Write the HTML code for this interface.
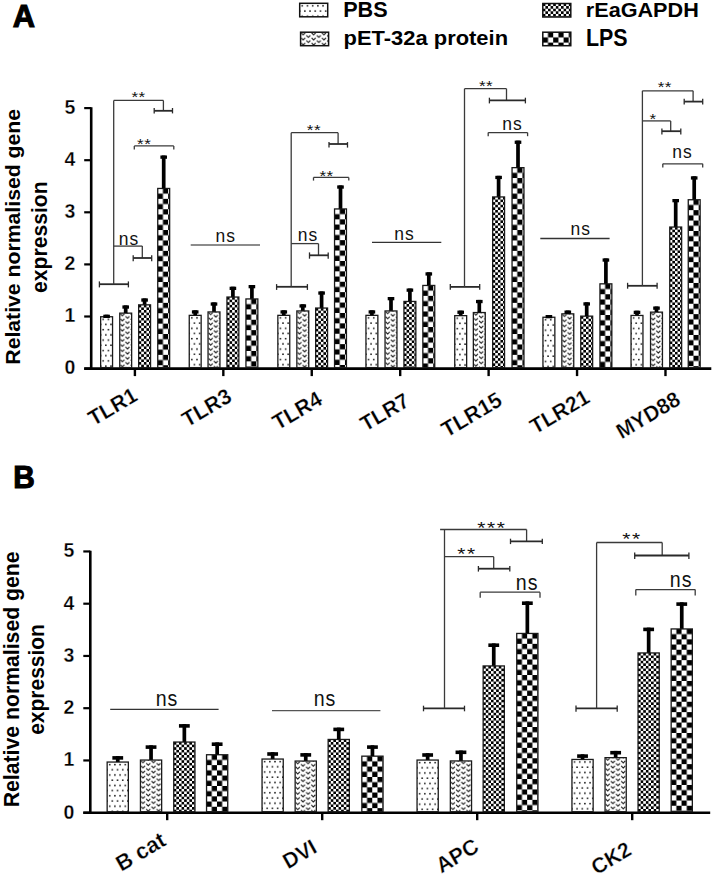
<!DOCTYPE html>
<html><head><meta charset="utf-8"><style>
html,body{margin:0;padding:0;background:#fff;}
body{width:714px;height:874px;overflow:hidden;font-family:"Liberation Sans",sans-serif;}
svg{display:block;}
</style></head><body>
<svg width="714" height="874" viewBox="0 0 714 874" font-family="Liberation Sans, sans-serif"><defs>
<pattern id="pdot" patternUnits="userSpaceOnUse" width="5.2" height="10.4" x="0" y="0">
 <rect width="5.2" height="10.4" fill="#fff"/>
 <rect x="1.8" y="1.8" width="1.5" height="1.5" fill="#111"/>
 <rect x="-0.8" y="7.0" width="1.5" height="1.5" fill="#111"/>
 <rect x="4.4" y="7.0" width="1.5" height="1.5" fill="#111"/>
</pattern>
<pattern id="pv" patternUnits="userSpaceOnUse" width="10.4" height="5.1" x="0" y="0">
 <rect width="10.4" height="5.1" fill="#fff"/>
 <g fill="none" stroke="#1a1a1a" stroke-width="1.05">
 <path d="M0.6 0.6 L2.6 2.7 L4.6 0.6"/>
 <path d="M5.8 -1.95 L7.8 0.15 L9.8 -1.95 M5.8 3.15 L7.8 5.25 L9.8 3.15"/>
 </g>
</pattern>
<pattern id="pfc" patternUnits="userSpaceOnUse" width="5.2" height="5.2" x="0" y="0">
 <rect width="5.2" height="5.2" fill="#fff"/>
 <rect x="0" y="0" width="2.6" height="2.6" fill="#000"/>
 <rect x="2.6" y="2.6" width="2.6" height="2.6" fill="#000"/>
</pattern>
<pattern id="pbc" patternUnits="userSpaceOnUse" width="10.4" height="10.4" x="0" y="0">
 <rect width="10.4" height="10.4" fill="#fff"/>
 <rect x="5.2" y="0" width="5.2" height="5.2" fill="#000"/>
 <rect x="0" y="5.2" width="5.2" height="5.2" fill="#000"/>
</pattern>
</defs><rect width="714" height="874" fill="#fff"/><g transform="translate(299.7,3.3)"><rect x="0" y="0" width="28" height="13.5" fill="url(#pdot)" stroke="#111" stroke-width="1.5"/></g>
<g transform="translate(300.6,32.2)"><rect x="0" y="0" width="28" height="13.5" fill="url(#pv)" stroke="#111" stroke-width="1.5"/></g>
<g transform="translate(542.8,3.5)"><rect x="0" y="0" width="28" height="13.5" fill="url(#pfc)" stroke="#111" stroke-width="1.5"/></g>
<g transform="translate(542.8,32.2)"><rect x="0" y="0" width="28" height="13.5" fill="url(#pbc)" stroke="#111" stroke-width="1.5"/></g>
<line x1="91.20" y1="107.30" x2="91.20" y2="369.80" stroke="#000" stroke-width="2.6"/>
<line x1="84.20" y1="368.60" x2="711.30" y2="368.60" stroke="#000" stroke-width="2.6"/>
<line x1="84.20" y1="368.60" x2="91.20" y2="368.60" stroke="#000" stroke-width="2.2"/>
<text x="75.30" y="374.40" font-size="19.5" font-weight="bold" text-anchor="end" stroke="#fff" stroke-width="0.3">0</text>
<line x1="84.20" y1="316.50" x2="91.20" y2="316.50" stroke="#000" stroke-width="2.2"/>
<text x="75.30" y="322.30" font-size="19.5" font-weight="bold" text-anchor="end" stroke="#fff" stroke-width="0.3">1</text>
<line x1="84.20" y1="264.40" x2="91.20" y2="264.40" stroke="#000" stroke-width="2.2"/>
<text x="75.30" y="270.20" font-size="19.5" font-weight="bold" text-anchor="end" stroke="#fff" stroke-width="0.3">2</text>
<line x1="84.20" y1="212.30" x2="91.20" y2="212.30" stroke="#000" stroke-width="2.2"/>
<text x="75.30" y="218.10" font-size="19.5" font-weight="bold" text-anchor="end" stroke="#fff" stroke-width="0.3">3</text>
<line x1="84.20" y1="160.20" x2="91.20" y2="160.20" stroke="#000" stroke-width="2.2"/>
<text x="75.30" y="166.00" font-size="19.5" font-weight="bold" text-anchor="end" stroke="#fff" stroke-width="0.3">4</text>
<line x1="84.20" y1="108.10" x2="91.20" y2="108.10" stroke="#000" stroke-width="2.2"/>
<text x="75.30" y="113.90" font-size="19.5" font-weight="bold" text-anchor="end" stroke="#fff" stroke-width="0.3">5</text>
<line x1="134.90" y1="368.60" x2="134.90" y2="376.10" stroke="#000" stroke-width="2.4"/>
<line x1="223.33" y1="368.60" x2="223.33" y2="376.10" stroke="#000" stroke-width="2.4"/>
<line x1="311.76" y1="368.60" x2="311.76" y2="376.10" stroke="#000" stroke-width="2.4"/>
<line x1="400.19" y1="368.60" x2="400.19" y2="376.10" stroke="#000" stroke-width="2.4"/>
<line x1="488.62" y1="368.60" x2="488.62" y2="376.10" stroke="#000" stroke-width="2.4"/>
<line x1="577.05" y1="368.60" x2="577.05" y2="376.10" stroke="#000" stroke-width="2.4"/>
<line x1="665.48" y1="368.60" x2="665.48" y2="376.10" stroke="#000" stroke-width="2.4"/>
<g transform="translate(100.65,316.75)"><rect x="0" y="0" width="11.90" height="50.85" fill="url(#pdot)" stroke="#1a1a1a" stroke-width="1.3"/></g>
<g transform="translate(119.75,313.15)"><rect x="0" y="0" width="11.90" height="54.45" fill="url(#pv)" stroke="#1a1a1a" stroke-width="1.3"/></g>
<g transform="translate(138.65,304.85)"><rect x="0" y="0" width="11.90" height="62.75" fill="url(#pfc)" stroke="#1a1a1a" stroke-width="1.3"/></g>
<g transform="translate(157.75,188.45)"><rect x="0" y="0" width="11.90" height="179.15" fill="url(#pbc)" stroke="#1a1a1a" stroke-width="1.3"/></g>
<rect x="104.75" y="314.70" width="3.70" height="1.90" fill="#000"/>
<rect x="103.30" y="314.70" width="6.60" height="3.30" fill="#000"/>
<rect x="123.85" y="305.40" width="3.70" height="7.60" fill="#000"/>
<rect x="122.40" y="305.40" width="6.60" height="3.30" fill="#000"/>
<rect x="142.75" y="298.40" width="3.70" height="6.30" fill="#000"/>
<rect x="141.30" y="298.40" width="6.60" height="3.30" fill="#000"/>
<rect x="161.85" y="155.50" width="3.70" height="32.80" fill="#000"/>
<rect x="160.40" y="155.50" width="6.60" height="3.30" fill="#000"/>
<g transform="translate(189.25,315.35)"><rect x="0" y="0" width="11.90" height="52.25" fill="url(#pdot)" stroke="#1a1a1a" stroke-width="1.3"/></g>
<g transform="translate(208.05,311.95)"><rect x="0" y="0" width="11.90" height="55.65" fill="url(#pv)" stroke="#1a1a1a" stroke-width="1.3"/></g>
<g transform="translate(226.95,297.05)"><rect x="0" y="0" width="11.90" height="70.55" fill="url(#pfc)" stroke="#1a1a1a" stroke-width="1.3"/></g>
<g transform="translate(245.95,298.95)"><rect x="0" y="0" width="11.90" height="68.65" fill="url(#pbc)" stroke="#1a1a1a" stroke-width="1.3"/></g>
<rect x="193.35" y="310.30" width="3.70" height="4.90" fill="#000"/>
<rect x="191.90" y="310.30" width="6.60" height="3.30" fill="#000"/>
<rect x="212.15" y="302.40" width="3.70" height="9.40" fill="#000"/>
<rect x="210.70" y="302.40" width="6.60" height="3.30" fill="#000"/>
<rect x="231.05" y="286.70" width="3.70" height="10.20" fill="#000"/>
<rect x="229.60" y="286.70" width="6.60" height="3.30" fill="#000"/>
<rect x="250.05" y="285.00" width="3.70" height="13.80" fill="#000"/>
<rect x="248.60" y="285.00" width="6.60" height="3.30" fill="#000"/>
<g transform="translate(277.85,315.35)"><rect x="0" y="0" width="11.90" height="52.25" fill="url(#pdot)" stroke="#1a1a1a" stroke-width="1.3"/></g>
<g transform="translate(296.85,310.95)"><rect x="0" y="0" width="11.90" height="56.65" fill="url(#pv)" stroke="#1a1a1a" stroke-width="1.3"/></g>
<g transform="translate(315.65,308.05)"><rect x="0" y="0" width="11.90" height="59.55" fill="url(#pfc)" stroke="#1a1a1a" stroke-width="1.3"/></g>
<g transform="translate(334.55,208.95)"><rect x="0" y="0" width="11.90" height="158.65" fill="url(#pbc)" stroke="#1a1a1a" stroke-width="1.3"/></g>
<rect x="281.95" y="310.30" width="3.70" height="4.90" fill="#000"/>
<rect x="280.50" y="310.30" width="6.60" height="3.30" fill="#000"/>
<rect x="300.95" y="304.30" width="3.70" height="6.50" fill="#000"/>
<rect x="299.50" y="304.30" width="6.60" height="3.30" fill="#000"/>
<rect x="319.75" y="291.40" width="3.70" height="16.50" fill="#000"/>
<rect x="318.30" y="291.40" width="6.60" height="3.30" fill="#000"/>
<rect x="338.65" y="185.40" width="3.70" height="23.40" fill="#000"/>
<rect x="337.20" y="185.40" width="6.60" height="3.30" fill="#000"/>
<g transform="translate(365.95,315.35)"><rect x="0" y="0" width="11.90" height="52.25" fill="url(#pdot)" stroke="#1a1a1a" stroke-width="1.3"/></g>
<g transform="translate(385.05,310.95)"><rect x="0" y="0" width="11.90" height="56.65" fill="url(#pv)" stroke="#1a1a1a" stroke-width="1.3"/></g>
<g transform="translate(403.95,301.45)"><rect x="0" y="0" width="11.90" height="66.15" fill="url(#pfc)" stroke="#1a1a1a" stroke-width="1.3"/></g>
<g transform="translate(422.85,285.45)"><rect x="0" y="0" width="11.90" height="82.15" fill="url(#pbc)" stroke="#1a1a1a" stroke-width="1.3"/></g>
<rect x="370.05" y="310.30" width="3.70" height="4.90" fill="#000"/>
<rect x="368.60" y="310.30" width="6.60" height="3.30" fill="#000"/>
<rect x="389.15" y="297.00" width="3.70" height="13.80" fill="#000"/>
<rect x="387.70" y="297.00" width="6.60" height="3.30" fill="#000"/>
<rect x="408.05" y="288.50" width="3.70" height="12.80" fill="#000"/>
<rect x="406.60" y="288.50" width="6.60" height="3.30" fill="#000"/>
<rect x="426.95" y="272.30" width="3.70" height="13.00" fill="#000"/>
<rect x="425.50" y="272.30" width="6.60" height="3.30" fill="#000"/>
<g transform="translate(454.75,315.65)"><rect x="0" y="0" width="11.90" height="51.95" fill="url(#pdot)" stroke="#1a1a1a" stroke-width="1.3"/></g>
<g transform="translate(473.35,312.55)"><rect x="0" y="0" width="11.90" height="55.05" fill="url(#pv)" stroke="#1a1a1a" stroke-width="1.3"/></g>
<g transform="translate(492.65,196.95)"><rect x="0" y="0" width="11.90" height="170.65" fill="url(#pfc)" stroke="#1a1a1a" stroke-width="1.3"/></g>
<g transform="translate(512.05,167.65)"><rect x="0" y="0" width="11.90" height="199.95" fill="url(#pbc)" stroke="#1a1a1a" stroke-width="1.3"/></g>
<rect x="458.85" y="310.60" width="3.70" height="4.90" fill="#000"/>
<rect x="457.40" y="310.60" width="6.60" height="3.30" fill="#000"/>
<rect x="477.45" y="299.90" width="3.70" height="12.50" fill="#000"/>
<rect x="476.00" y="299.90" width="6.60" height="3.30" fill="#000"/>
<rect x="496.75" y="175.80" width="3.70" height="21.00" fill="#000"/>
<rect x="495.30" y="175.80" width="6.60" height="3.30" fill="#000"/>
<rect x="516.15" y="140.60" width="3.70" height="26.90" fill="#000"/>
<rect x="514.70" y="140.60" width="6.60" height="3.30" fill="#000"/>
<g transform="translate(542.95,317.25)"><rect x="0" y="0" width="11.90" height="50.35" fill="url(#pdot)" stroke="#1a1a1a" stroke-width="1.3"/></g>
<g transform="translate(561.85,313.85)"><rect x="0" y="0" width="11.90" height="53.75" fill="url(#pv)" stroke="#1a1a1a" stroke-width="1.3"/></g>
<g transform="translate(580.75,316.15)"><rect x="0" y="0" width="11.90" height="51.45" fill="url(#pfc)" stroke="#1a1a1a" stroke-width="1.3"/></g>
<g transform="translate(599.95,283.85)"><rect x="0" y="0" width="11.90" height="83.75" fill="url(#pbc)" stroke="#1a1a1a" stroke-width="1.3"/></g>
<rect x="547.05" y="315.00" width="3.70" height="2.10" fill="#000"/>
<rect x="545.60" y="315.00" width="6.60" height="3.30" fill="#000"/>
<rect x="565.95" y="310.50" width="3.70" height="3.20" fill="#000"/>
<rect x="564.50" y="310.50" width="6.60" height="3.30" fill="#000"/>
<rect x="584.85" y="302.30" width="3.70" height="13.70" fill="#000"/>
<rect x="583.40" y="302.30" width="6.60" height="3.30" fill="#000"/>
<rect x="604.05" y="258.40" width="3.70" height="25.30" fill="#000"/>
<rect x="602.60" y="258.40" width="6.60" height="3.30" fill="#000"/>
<g transform="translate(631.05,315.45)"><rect x="0" y="0" width="11.90" height="52.15" fill="url(#pdot)" stroke="#1a1a1a" stroke-width="1.3"/></g>
<g transform="translate(650.55,312.15)"><rect x="0" y="0" width="11.90" height="55.45" fill="url(#pv)" stroke="#1a1a1a" stroke-width="1.3"/></g>
<g transform="translate(669.75,227.05)"><rect x="0" y="0" width="11.90" height="140.55" fill="url(#pfc)" stroke="#1a1a1a" stroke-width="1.3"/></g>
<g transform="translate(688.25,199.75)"><rect x="0" y="0" width="11.90" height="167.85" fill="url(#pbc)" stroke="#1a1a1a" stroke-width="1.3"/></g>
<rect x="635.15" y="310.70" width="3.70" height="4.60" fill="#000"/>
<rect x="633.70" y="310.70" width="6.60" height="3.30" fill="#000"/>
<rect x="654.65" y="306.50" width="3.70" height="5.50" fill="#000"/>
<rect x="653.20" y="306.50" width="6.60" height="3.30" fill="#000"/>
<rect x="673.85" y="199.00" width="3.70" height="27.90" fill="#000"/>
<rect x="672.40" y="199.00" width="6.60" height="3.30" fill="#000"/>
<rect x="692.35" y="176.30" width="3.70" height="23.30" fill="#000"/>
<rect x="690.90" y="176.30" width="6.60" height="3.30" fill="#000"/>
<line x1="90.30" y1="550.65" x2="90.30" y2="813.90" stroke="#000" stroke-width="2.6"/>
<line x1="83.30" y1="812.70" x2="710.20" y2="812.70" stroke="#000" stroke-width="2.6"/>
<line x1="83.30" y1="812.70" x2="90.30" y2="812.70" stroke="#000" stroke-width="2.2"/>
<text x="74.40" y="818.50" font-size="19.5" font-weight="bold" text-anchor="end" stroke="#fff" stroke-width="0.3">0</text>
<line x1="83.30" y1="760.45" x2="90.30" y2="760.45" stroke="#000" stroke-width="2.2"/>
<text x="74.40" y="766.25" font-size="19.5" font-weight="bold" text-anchor="end" stroke="#fff" stroke-width="0.3">1</text>
<line x1="83.30" y1="708.20" x2="90.30" y2="708.20" stroke="#000" stroke-width="2.2"/>
<text x="74.40" y="714.00" font-size="19.5" font-weight="bold" text-anchor="end" stroke="#fff" stroke-width="0.3">2</text>
<line x1="83.30" y1="655.95" x2="90.30" y2="655.95" stroke="#000" stroke-width="2.2"/>
<text x="74.40" y="661.75" font-size="19.5" font-weight="bold" text-anchor="end" stroke="#fff" stroke-width="0.3">3</text>
<line x1="83.30" y1="603.70" x2="90.30" y2="603.70" stroke="#000" stroke-width="2.2"/>
<text x="74.40" y="609.50" font-size="19.5" font-weight="bold" text-anchor="end" stroke="#fff" stroke-width="0.3">4</text>
<line x1="83.30" y1="551.45" x2="90.30" y2="551.45" stroke="#000" stroke-width="2.2"/>
<text x="74.40" y="557.25" font-size="19.5" font-weight="bold" text-anchor="end" stroke="#fff" stroke-width="0.3">5</text>
<line x1="167.20" y1="812.70" x2="167.20" y2="820.20" stroke="#000" stroke-width="2.4"/>
<line x1="322.20" y1="812.70" x2="322.20" y2="820.20" stroke="#000" stroke-width="2.4"/>
<line x1="477.20" y1="812.70" x2="477.20" y2="820.20" stroke="#000" stroke-width="2.4"/>
<line x1="632.20" y1="812.70" x2="632.20" y2="820.20" stroke="#000" stroke-width="2.4"/>
<g transform="translate(107.15,762.05)"><rect x="0" y="0" width="21.20" height="49.65" fill="url(#pdot)" stroke="#1a1a1a" stroke-width="1.3"/></g>
<g transform="translate(140.45,760.05)"><rect x="0" y="0" width="21.20" height="51.65" fill="url(#pv)" stroke="#1a1a1a" stroke-width="1.3"/></g>
<g transform="translate(173.75,742.05)"><rect x="0" y="0" width="21.20" height="69.65" fill="url(#pfc)" stroke="#1a1a1a" stroke-width="1.3"/></g>
<g transform="translate(206.55,754.75)"><rect x="0" y="0" width="21.20" height="56.95" fill="url(#pbc)" stroke="#1a1a1a" stroke-width="1.3"/></g>
<rect x="115.90" y="756.10" width="3.70" height="5.80" fill="#000"/>
<rect x="112.35" y="756.10" width="10.80" height="3.60" fill="#000"/>
<rect x="149.20" y="745.30" width="3.70" height="14.60" fill="#000"/>
<rect x="145.65" y="745.30" width="10.80" height="3.60" fill="#000"/>
<rect x="182.50" y="724.10" width="3.70" height="17.80" fill="#000"/>
<rect x="178.95" y="724.10" width="10.80" height="3.60" fill="#000"/>
<rect x="215.30" y="742.40" width="3.70" height="12.20" fill="#000"/>
<rect x="211.75" y="742.40" width="10.80" height="3.60" fill="#000"/>
<g transform="translate(262.05,759.05)"><rect x="0" y="0" width="21.20" height="52.65" fill="url(#pdot)" stroke="#1a1a1a" stroke-width="1.3"/></g>
<g transform="translate(295.15,761.05)"><rect x="0" y="0" width="21.20" height="50.65" fill="url(#pv)" stroke="#1a1a1a" stroke-width="1.3"/></g>
<g transform="translate(328.15,739.45)"><rect x="0" y="0" width="21.20" height="72.25" fill="url(#pfc)" stroke="#1a1a1a" stroke-width="1.3"/></g>
<g transform="translate(361.85,756.15)"><rect x="0" y="0" width="21.20" height="55.55" fill="url(#pbc)" stroke="#1a1a1a" stroke-width="1.3"/></g>
<rect x="270.80" y="752.20" width="3.70" height="6.70" fill="#000"/>
<rect x="267.25" y="752.20" width="10.80" height="3.60" fill="#000"/>
<rect x="303.90" y="753.10" width="3.70" height="7.80" fill="#000"/>
<rect x="300.35" y="753.10" width="10.80" height="3.60" fill="#000"/>
<rect x="336.90" y="727.60" width="3.70" height="11.70" fill="#000"/>
<rect x="333.35" y="727.60" width="10.80" height="3.60" fill="#000"/>
<rect x="370.60" y="745.30" width="3.70" height="10.70" fill="#000"/>
<rect x="367.05" y="745.30" width="10.80" height="3.60" fill="#000"/>
<g transform="translate(417.05,760.05)"><rect x="0" y="0" width="21.20" height="51.65" fill="url(#pdot)" stroke="#1a1a1a" stroke-width="1.3"/></g>
<g transform="translate(450.35,760.95)"><rect x="0" y="0" width="21.20" height="50.75" fill="url(#pv)" stroke="#1a1a1a" stroke-width="1.3"/></g>
<g transform="translate(483.15,665.95)"><rect x="0" y="0" width="21.20" height="145.75" fill="url(#pfc)" stroke="#1a1a1a" stroke-width="1.3"/></g>
<g transform="translate(516.75,633.45)"><rect x="0" y="0" width="21.20" height="178.25" fill="url(#pbc)" stroke="#1a1a1a" stroke-width="1.3"/></g>
<rect x="425.80" y="753.20" width="3.70" height="6.70" fill="#000"/>
<rect x="422.25" y="753.20" width="10.80" height="3.60" fill="#000"/>
<rect x="459.10" y="750.50" width="3.70" height="10.30" fill="#000"/>
<rect x="455.55" y="750.50" width="10.80" height="3.60" fill="#000"/>
<rect x="491.90" y="643.40" width="3.70" height="22.40" fill="#000"/>
<rect x="488.35" y="643.40" width="10.80" height="3.60" fill="#000"/>
<rect x="525.50" y="601.40" width="3.70" height="31.90" fill="#000"/>
<rect x="521.95" y="601.40" width="10.80" height="3.60" fill="#000"/>
<g transform="translate(571.95,759.45)"><rect x="0" y="0" width="21.20" height="52.25" fill="url(#pdot)" stroke="#1a1a1a" stroke-width="1.3"/></g>
<g transform="translate(605.05,757.65)"><rect x="0" y="0" width="21.20" height="54.05" fill="url(#pv)" stroke="#1a1a1a" stroke-width="1.3"/></g>
<g transform="translate(638.05,652.95)"><rect x="0" y="0" width="21.20" height="158.75" fill="url(#pfc)" stroke="#1a1a1a" stroke-width="1.3"/></g>
<g transform="translate(671.15,628.95)"><rect x="0" y="0" width="21.20" height="182.75" fill="url(#pbc)" stroke="#1a1a1a" stroke-width="1.3"/></g>
<rect x="580.70" y="754.30" width="3.70" height="5.00" fill="#000"/>
<rect x="577.15" y="754.30" width="10.80" height="3.60" fill="#000"/>
<rect x="613.80" y="750.90" width="3.70" height="6.60" fill="#000"/>
<rect x="610.25" y="750.90" width="10.80" height="3.60" fill="#000"/>
<rect x="646.80" y="627.60" width="3.70" height="25.20" fill="#000"/>
<rect x="643.25" y="627.60" width="10.80" height="3.60" fill="#000"/>
<rect x="679.90" y="602.30" width="3.70" height="26.50" fill="#000"/>
<rect x="676.35" y="602.30" width="10.80" height="3.60" fill="#000"/>
<line x1="99.40" y1="284.20" x2="128.40" y2="284.20" stroke="#2a2a2a" stroke-width="1.8"/>
<line x1="99.40" y1="281.40" x2="99.40" y2="287.40" stroke="#2a2a2a" stroke-width="1.3"/>
<line x1="128.40" y1="281.40" x2="128.40" y2="287.40" stroke="#2a2a2a" stroke-width="1.3"/>
<line x1="113.70" y1="284.20" x2="113.70" y2="100.40" stroke="#3a3a3a" stroke-width="1.3"/>
<line x1="113.70" y1="100.40" x2="163.40" y2="100.40" stroke="#3a3a3a" stroke-width="1.3"/>
<line x1="163.40" y1="100.40" x2="163.40" y2="110.80" stroke="#3a3a3a" stroke-width="1.3"/>
<line x1="154.20" y1="110.80" x2="172.50" y2="110.80" stroke="#2a2a2a" stroke-width="1.8"/>
<line x1="154.20" y1="108.00" x2="154.20" y2="113.40" stroke="#2a2a2a" stroke-width="1.3"/>
<line x1="172.50" y1="108.00" x2="172.50" y2="113.40" stroke="#2a2a2a" stroke-width="1.3"/>
<line x1="113.70" y1="246.10" x2="142.30" y2="246.10" stroke="#3a3a3a" stroke-width="1.3"/>
<line x1="142.30" y1="246.10" x2="142.30" y2="258.00" stroke="#3a3a3a" stroke-width="1.3"/>
<line x1="133.20" y1="258.00" x2="151.70" y2="258.00" stroke="#2a2a2a" stroke-width="1.8"/>
<line x1="133.20" y1="255.20" x2="133.20" y2="261.30" stroke="#2a2a2a" stroke-width="1.3"/>
<line x1="151.70" y1="255.20" x2="151.70" y2="261.30" stroke="#2a2a2a" stroke-width="1.3"/>
<line x1="134.30" y1="145.90" x2="173.80" y2="145.90" stroke="#3a3a3a" stroke-width="1.3"/>
<line x1="134.30" y1="145.90" x2="134.30" y2="149.50" stroke="#3a3a3a" stroke-width="1.3"/>
<line x1="173.80" y1="145.90" x2="173.80" y2="149.50" stroke="#3a3a3a" stroke-width="1.3"/>
<line x1="190.70" y1="245.00" x2="260.00" y2="245.00" stroke="#666" stroke-width="1.4"/>
<line x1="276.60" y1="286.80" x2="307.40" y2="286.80" stroke="#2a2a2a" stroke-width="1.8"/>
<line x1="276.60" y1="284.10" x2="276.60" y2="289.90" stroke="#2a2a2a" stroke-width="1.3"/>
<line x1="307.40" y1="284.10" x2="307.40" y2="289.90" stroke="#2a2a2a" stroke-width="1.3"/>
<line x1="291.20" y1="286.80" x2="291.20" y2="132.70" stroke="#3a3a3a" stroke-width="1.3"/>
<line x1="291.20" y1="132.70" x2="338.10" y2="132.70" stroke="#3a3a3a" stroke-width="1.3"/>
<line x1="338.10" y1="132.70" x2="338.10" y2="144.00" stroke="#3a3a3a" stroke-width="1.3"/>
<line x1="329.00" y1="144.00" x2="347.50" y2="144.00" stroke="#2a2a2a" stroke-width="1.8"/>
<line x1="329.00" y1="142.10" x2="329.00" y2="147.60" stroke="#2a2a2a" stroke-width="1.3"/>
<line x1="347.50" y1="142.10" x2="347.50" y2="147.60" stroke="#2a2a2a" stroke-width="1.3"/>
<line x1="291.20" y1="243.60" x2="318.50" y2="243.60" stroke="#3a3a3a" stroke-width="1.3"/>
<line x1="318.50" y1="243.60" x2="318.50" y2="255.30" stroke="#3a3a3a" stroke-width="1.3"/>
<line x1="309.50" y1="255.30" x2="328.20" y2="255.30" stroke="#2a2a2a" stroke-width="1.8"/>
<line x1="309.50" y1="252.40" x2="309.50" y2="258.70" stroke="#2a2a2a" stroke-width="1.3"/>
<line x1="328.20" y1="252.40" x2="328.20" y2="258.70" stroke="#2a2a2a" stroke-width="1.3"/>
<line x1="313.50" y1="177.40" x2="348.80" y2="177.40" stroke="#3a3a3a" stroke-width="1.3"/>
<line x1="313.50" y1="177.40" x2="313.50" y2="180.60" stroke="#3a3a3a" stroke-width="1.3"/>
<line x1="348.80" y1="177.40" x2="348.80" y2="180.60" stroke="#3a3a3a" stroke-width="1.3"/>
<line x1="372.00" y1="242.40" x2="441.30" y2="242.40" stroke="#333" stroke-width="1.4"/>
<line x1="450.30" y1="286.90" x2="479.70" y2="286.90" stroke="#2a2a2a" stroke-width="1.8"/>
<line x1="450.30" y1="284.10" x2="450.30" y2="289.80" stroke="#2a2a2a" stroke-width="1.3"/>
<line x1="479.70" y1="284.10" x2="479.70" y2="289.80" stroke="#2a2a2a" stroke-width="1.3"/>
<line x1="464.50" y1="286.90" x2="464.50" y2="88.70" stroke="#3a3a3a" stroke-width="1.3"/>
<line x1="464.50" y1="88.70" x2="506.50" y2="88.70" stroke="#3a3a3a" stroke-width="1.3"/>
<line x1="506.50" y1="88.70" x2="506.50" y2="100.30" stroke="#3a3a3a" stroke-width="1.3"/>
<line x1="489.40" y1="100.30" x2="525.40" y2="100.30" stroke="#2a2a2a" stroke-width="1.8"/>
<line x1="489.40" y1="97.70" x2="489.40" y2="103.40" stroke="#2a2a2a" stroke-width="1.3"/>
<line x1="525.40" y1="97.70" x2="525.40" y2="103.40" stroke="#2a2a2a" stroke-width="1.3"/>
<line x1="488.20" y1="132.60" x2="527.60" y2="132.60" stroke="#3a3a3a" stroke-width="1.3"/>
<line x1="488.20" y1="132.60" x2="488.20" y2="136.20" stroke="#3a3a3a" stroke-width="1.3"/>
<line x1="527.60" y1="132.60" x2="527.60" y2="136.20" stroke="#3a3a3a" stroke-width="1.3"/>
<line x1="540.30" y1="238.50" x2="609.60" y2="238.50" stroke="#333" stroke-width="1.4"/>
<line x1="627.60" y1="285.80" x2="657.10" y2="285.80" stroke="#2a2a2a" stroke-width="1.8"/>
<line x1="627.60" y1="282.80" x2="627.60" y2="288.70" stroke="#2a2a2a" stroke-width="1.3"/>
<line x1="657.10" y1="282.80" x2="657.10" y2="288.70" stroke="#2a2a2a" stroke-width="1.3"/>
<line x1="642.40" y1="285.80" x2="642.40" y2="90.80" stroke="#3a3a3a" stroke-width="1.3"/>
<line x1="642.40" y1="90.80" x2="693.10" y2="90.80" stroke="#3a3a3a" stroke-width="1.3"/>
<line x1="693.10" y1="90.80" x2="693.10" y2="101.60" stroke="#3a3a3a" stroke-width="1.3"/>
<line x1="684.20" y1="101.60" x2="702.70" y2="101.60" stroke="#2a2a2a" stroke-width="1.8"/>
<line x1="684.20" y1="98.70" x2="684.20" y2="104.50" stroke="#2a2a2a" stroke-width="1.3"/>
<line x1="702.70" y1="98.70" x2="702.70" y2="104.50" stroke="#2a2a2a" stroke-width="1.3"/>
<line x1="642.40" y1="120.90" x2="670.70" y2="120.90" stroke="#3a3a3a" stroke-width="1.3"/>
<line x1="670.70" y1="120.90" x2="670.70" y2="131.20" stroke="#3a3a3a" stroke-width="1.3"/>
<line x1="661.90" y1="131.20" x2="680.80" y2="131.20" stroke="#2a2a2a" stroke-width="1.8"/>
<line x1="661.90" y1="128.60" x2="661.90" y2="134.50" stroke="#2a2a2a" stroke-width="1.3"/>
<line x1="680.80" y1="128.60" x2="680.80" y2="134.50" stroke="#2a2a2a" stroke-width="1.3"/>
<line x1="662.80" y1="163.80" x2="702.70" y2="163.80" stroke="#3a3a3a" stroke-width="1.3"/>
<line x1="662.80" y1="163.80" x2="662.80" y2="167.50" stroke="#3a3a3a" stroke-width="1.3"/>
<line x1="702.70" y1="163.80" x2="702.70" y2="167.50" stroke="#3a3a3a" stroke-width="1.3"/>
<line x1="110.20" y1="709.40" x2="218.60" y2="709.40" stroke="#333" stroke-width="1.3"/>
<line x1="272.00" y1="710.60" x2="380.40" y2="710.60" stroke="#555" stroke-width="1.3"/>
<line x1="423.50" y1="708.30" x2="464.50" y2="708.30" stroke="#2a2a2a" stroke-width="1.8"/>
<line x1="423.50" y1="705.70" x2="423.50" y2="711.30" stroke="#2a2a2a" stroke-width="1.3"/>
<line x1="464.50" y1="705.70" x2="464.50" y2="711.30" stroke="#2a2a2a" stroke-width="1.3"/>
<line x1="444.50" y1="708.30" x2="444.50" y2="529.50" stroke="#3a3a3a" stroke-width="1.3"/>
<line x1="440.10" y1="529.50" x2="526.60" y2="529.50" stroke="#3a3a3a" stroke-width="1.3"/>
<line x1="526.60" y1="529.50" x2="526.60" y2="541.40" stroke="#3a3a3a" stroke-width="1.3"/>
<line x1="510.50" y1="541.40" x2="542.30" y2="541.40" stroke="#2a2a2a" stroke-width="1.8"/>
<line x1="510.50" y1="538.70" x2="510.50" y2="544.10" stroke="#2a2a2a" stroke-width="1.3"/>
<line x1="542.30" y1="538.70" x2="542.30" y2="544.10" stroke="#2a2a2a" stroke-width="1.3"/>
<line x1="444.50" y1="556.70" x2="493.70" y2="556.70" stroke="#3a3a3a" stroke-width="1.3"/>
<line x1="493.70" y1="556.70" x2="493.70" y2="568.70" stroke="#3a3a3a" stroke-width="1.3"/>
<line x1="478.40" y1="568.70" x2="509.80" y2="568.70" stroke="#2a2a2a" stroke-width="1.8"/>
<line x1="478.40" y1="566.00" x2="478.40" y2="571.60" stroke="#2a2a2a" stroke-width="1.3"/>
<line x1="509.80" y1="566.00" x2="509.80" y2="571.60" stroke="#2a2a2a" stroke-width="1.3"/>
<line x1="480.20" y1="592.20" x2="540.00" y2="592.20" stroke="#3a3a3a" stroke-width="1.3"/>
<line x1="480.20" y1="592.20" x2="480.20" y2="597.80" stroke="#3a3a3a" stroke-width="1.3"/>
<line x1="540.00" y1="592.20" x2="540.00" y2="597.80" stroke="#3a3a3a" stroke-width="1.3"/>
<line x1="576.00" y1="708.30" x2="617.20" y2="708.30" stroke="#2a2a2a" stroke-width="1.8"/>
<line x1="576.00" y1="705.40" x2="576.00" y2="711.70" stroke="#2a2a2a" stroke-width="1.3"/>
<line x1="617.20" y1="705.40" x2="617.20" y2="711.70" stroke="#2a2a2a" stroke-width="1.3"/>
<line x1="596.60" y1="708.30" x2="596.60" y2="542.50" stroke="#3a3a3a" stroke-width="1.3"/>
<line x1="596.60" y1="542.50" x2="662.20" y2="542.50" stroke="#3a3a3a" stroke-width="1.3"/>
<line x1="662.20" y1="542.50" x2="662.20" y2="555.50" stroke="#3a3a3a" stroke-width="1.3"/>
<line x1="634.70" y1="555.50" x2="688.90" y2="555.50" stroke="#2a2a2a" stroke-width="1.8"/>
<line x1="634.70" y1="552.60" x2="634.70" y2="558.90" stroke="#2a2a2a" stroke-width="1.3"/>
<line x1="688.90" y1="552.60" x2="688.90" y2="558.90" stroke="#2a2a2a" stroke-width="1.3"/>
<line x1="635.80" y1="589.60" x2="695.20" y2="589.60" stroke="#3a3a3a" stroke-width="1.3"/>
<line x1="635.80" y1="589.60" x2="635.80" y2="595.60" stroke="#3a3a3a" stroke-width="1.3"/>
<line x1="695.20" y1="589.60" x2="695.20" y2="595.60" stroke="#3a3a3a" stroke-width="1.3"/>
<g transform="translate(23.95,15.75) scale(0.9844,1)"><text x="0" y="10.97" font-size="31.34" font-weight="bold" text-anchor="middle" fill="#000" stroke="#000" stroke-width="1.1">A</text></g>
<g transform="translate(24.00,477.60) scale(0.9742,1)"><text x="0" y="10.71" font-size="30.61" font-weight="bold" text-anchor="middle" fill="#000" stroke="#000" stroke-width="1.1">B</text></g>
<g transform="translate(365.35,9.70) scale(1.0219,1)"><text x="0" y="7.41" font-size="21.16" font-weight="bold" text-anchor="middle" fill="#000" >PBS</text></g>
<g transform="translate(425.80,38.30) scale(1.0695,1)"><text x="0" y="7.18" font-size="20.50" font-weight="bold" text-anchor="middle" fill="#000" >pET-32a protein</text></g>
<g transform="translate(642.30,10.15) scale(1.0635,1)"><text x="0" y="7.12" font-size="20.34" font-weight="bold" text-anchor="middle" fill="#000" >rEaGAPDH</text></g>
<g transform="translate(606.80,37.50) scale(0.8983,1)"><text x="0" y="8.35" font-size="23.86" font-weight="bold" text-anchor="middle" fill="#000" >LPS</text></g>
<g transform="translate(12.90,236.80) rotate(-90) scale(1.0170,1)"><text x="0" y="7.31" font-size="20.87" font-weight="bold" text-anchor="middle" fill="#000" >Relative normalised gene</text></g>
<g transform="translate(39.00,237.15) rotate(-90) scale(0.9800,1)"><text x="0" y="7.54" font-size="21.55" font-weight="bold" text-anchor="middle" fill="#000" >expression</text></g>
<g transform="translate(10.95,679.35) rotate(-90) scale(0.9708,1)"><text x="0" y="7.65" font-size="21.86" font-weight="bold" text-anchor="middle" fill="#000" >Relative normalised gene</text></g>
<g transform="translate(36.50,679.45) rotate(-90) scale(0.9738,1)"><text x="0" y="7.54" font-size="21.55" font-weight="bold" text-anchor="middle" fill="#000" >expression</text></g>
<g transform="translate(129.10,238.90) scale(0.9500,1)"><text x="0" y="6.44" font-size="18.40" font-weight="normal" text-anchor="middle" fill="#111" letter-spacing="1.1">ns</text></g>
<g transform="translate(225.70,235.70) scale(0.9500,1)"><text x="0" y="6.44" font-size="18.40" font-weight="normal" text-anchor="middle" fill="#111" letter-spacing="1.1">ns</text></g>
<g transform="translate(308.10,235.00) scale(0.9500,1)"><text x="0" y="6.44" font-size="18.40" font-weight="normal" text-anchor="middle" fill="#111" letter-spacing="1.1">ns</text></g>
<g transform="translate(404.40,233.70) scale(0.9500,1)"><text x="0" y="6.44" font-size="18.40" font-weight="normal" text-anchor="middle" fill="#111" letter-spacing="1.1">ns</text></g>
<g transform="translate(512.40,123.20) scale(0.9500,1)"><text x="0" y="6.44" font-size="18.40" font-weight="normal" text-anchor="middle" fill="#111" letter-spacing="1.1">ns</text></g>
<g transform="translate(580.70,228.30) scale(0.9500,1)"><text x="0" y="6.44" font-size="18.40" font-weight="normal" text-anchor="middle" fill="#111" letter-spacing="1.1">ns</text></g>
<g transform="translate(682.40,151.70) scale(0.9500,1)"><text x="0" y="6.44" font-size="18.40" font-weight="normal" text-anchor="middle" fill="#111" letter-spacing="1.1">ns</text></g>
<g transform="translate(167.00,697.80) scale(0.8600,1)"><text x="0" y="7.98" font-size="22.80" font-weight="normal" text-anchor="middle" fill="#111" letter-spacing="1.1">ns</text></g>
<g transform="translate(325.00,698.00) scale(0.8600,1)"><text x="0" y="7.98" font-size="22.80" font-weight="normal" text-anchor="middle" fill="#111" letter-spacing="1.1">ns</text></g>
<g transform="translate(527.10,581.80) scale(0.8600,1)"><text x="0" y="7.98" font-size="22.80" font-weight="normal" text-anchor="middle" fill="#111" letter-spacing="1.1">ns</text></g>
<g transform="translate(681.10,578.80) scale(0.8600,1)"><text x="0" y="7.98" font-size="22.80" font-weight="normal" text-anchor="middle" fill="#111" letter-spacing="1.1">ns</text></g>
<g transform="translate(138.45,96.50) scale(1.1000,1)"><text x="0" y="5.42" font-size="15.50" font-weight="normal" text-anchor="middle" fill="#111" letter-spacing="0.4">**</text></g>
<g transform="translate(144.15,143.40) scale(1.1000,1)"><text x="0" y="5.42" font-size="15.50" font-weight="normal" text-anchor="middle" fill="#111" letter-spacing="0.4">**</text></g>
<g transform="translate(313.90,129.90) scale(1.1000,1)"><text x="0" y="5.42" font-size="15.50" font-weight="normal" text-anchor="middle" fill="#111" letter-spacing="0.4">**</text></g>
<g transform="translate(326.60,175.65) scale(1.1000,1)"><text x="0" y="5.42" font-size="15.50" font-weight="normal" text-anchor="middle" fill="#111" letter-spacing="0.4">**</text></g>
<g transform="translate(486.05,85.45) scale(1.1000,1)"><text x="0" y="5.42" font-size="15.50" font-weight="normal" text-anchor="middle" fill="#111" letter-spacing="0.4">**</text></g>
<g transform="translate(664.75,86.85) scale(1.1000,1)"><text x="0" y="5.42" font-size="15.50" font-weight="normal" text-anchor="middle" fill="#111" letter-spacing="0.4">**</text></g>
<g transform="translate(652.95,118.75) scale(1.1000,1)"><text x="0" y="5.42" font-size="15.50" font-weight="normal" text-anchor="middle" fill="#111" letter-spacing="0.4">*</text></g>
<g transform="translate(491.85,528.45) scale(1.2300,1)"><text x="0" y="5.95" font-size="17.00" font-weight="normal" text-anchor="middle" fill="#111" letter-spacing="1.3">***</text></g>
<g transform="translate(466.90,554.45) scale(1.2300,1)"><text x="0" y="5.95" font-size="17.00" font-weight="normal" text-anchor="middle" fill="#111" letter-spacing="1.3">**</text></g>
<g transform="translate(632.10,539.35) scale(1.2300,1)"><text x="0" y="5.95" font-size="17.00" font-weight="normal" text-anchor="middle" fill="#111" letter-spacing="1.3">**</text></g>
<g transform="translate(112.50,406.50) scale(0.9700,1) rotate(-30)"><text x="0" y="7.58" font-size="21.65" font-weight="bold" text-anchor="middle" fill="#000" stroke="#fff" stroke-width="0.3">TLR1</text></g>
<g transform="translate(206.50,407.50) scale(0.9700,1) rotate(-30)"><text x="0" y="7.63" font-size="21.80" font-weight="bold" text-anchor="middle" fill="#000" stroke="#fff" stroke-width="0.3">TLR3</text></g>
<g transform="translate(297.00,410.50) scale(0.9700,1) rotate(-30)"><text x="0" y="7.67" font-size="21.92" font-weight="bold" text-anchor="middle" fill="#000" stroke="#fff" stroke-width="0.3">TLR4</text></g>
<g transform="translate(384.50,412.00) scale(0.9700,1) rotate(-30)"><text x="0" y="7.54" font-size="21.54" font-weight="bold" text-anchor="middle" fill="#000" stroke="#fff" stroke-width="0.3">TLR7</text></g>
<g transform="translate(471.50,414.50) scale(0.9700,1) rotate(-30)"><text x="0" y="7.74" font-size="22.12" font-weight="bold" text-anchor="middle" fill="#000" stroke="#fff" stroke-width="0.3">TLR15</text></g>
<g transform="translate(559.50,411.50) scale(0.9700,1) rotate(-30)"><text x="0" y="7.63" font-size="21.79" font-weight="bold" text-anchor="middle" fill="#000" stroke="#fff" stroke-width="0.3">TLR21</text></g>
<g transform="translate(648.00,415.00) scale(0.9700,1) rotate(-30)"><text x="0" y="7.57" font-size="21.62" font-weight="bold" text-anchor="middle" fill="#000" stroke="#fff" stroke-width="0.3">MYD88</text></g>
<g transform="translate(140.50,851.50) scale(0.9700,1) rotate(-30)"><text x="0" y="7.85" font-size="22.42" font-weight="bold" text-anchor="middle" fill="#000" stroke="#fff" stroke-width="0.3">B cat</text></g>
<g transform="translate(299.50,854.00) scale(0.9700,1) rotate(-30)"><text x="0" y="7.59" font-size="21.70" font-weight="bold" text-anchor="middle" fill="#000" stroke="#fff" stroke-width="0.3">DVI</text></g>
<g transform="translate(457.00,855.50) scale(0.9700,1) rotate(-30)"><text x="0" y="7.70" font-size="22.01" font-weight="bold" text-anchor="middle" fill="#000" stroke="#fff" stroke-width="0.3">APC</text></g>
<g transform="translate(611.00,858.00) scale(0.9700,1) rotate(-30)"><text x="0" y="7.58" font-size="21.65" font-weight="bold" text-anchor="middle" fill="#000" stroke="#fff" stroke-width="0.3">CK2</text></g></svg>
</body></html>
